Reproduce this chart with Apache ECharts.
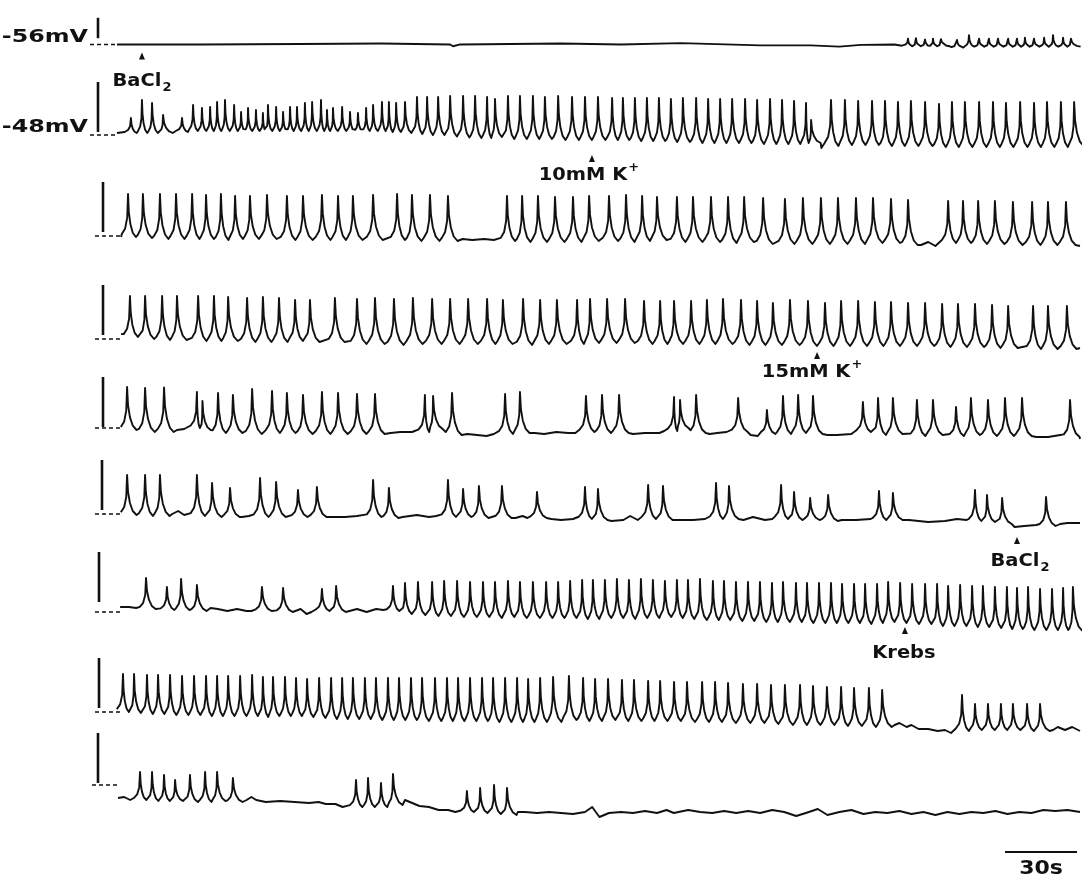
<!DOCTYPE html>
<html>
<head>
<meta charset="utf-8">
<script src="https://cdn.jsdelivr.net/npm/echarts@6/dist/echarts.min.js"></script>
<style>
  html, body { margin: 0; padding: 0; background: #ffffff; }
  #chart { width: 1082px; height: 880px; }
</style>
</head>
<body>
<div id="chart"></div>
<script>
// Nine consecutive sweeps of membrane potential. Time runs in seconds along
// each sweep; voltage is in mV relative to the dashed reference level.
// Spikes are [time s, peak mV, local baseline mV]; rest points are [time s, mV].

const sweepSeconds = 401.25;
const restingLabels = ['-56mV', '-48mV'];

const row1Spikes = [[329.6,1.3,-0.4],[332.9,1.4,-0.4],[336.7,1.1,-0.4],[340.0,1.3,-0.4],[343.3,1.2,-0.4],[350.0,1.0,-0.7],[355.0,2.1,-0.5],[359.2,1.3,-0.5],[363.3,1.3,-0.5],[367.1,1.3,-0.5],[371.3,1.3,-0.5],[375.0,1.3,-0.5],[378.3,1.5,-0.5],[382.1,1.3,-0.5],[386.3,1.5,-0.5],[390.0,2.1,-0.5],[394.2,1.5,-0.5],[397.5,1.3,-0.5]];
const row1Rest = [[0,0],[35,0.0],[76,0.1],[110,0.2],[138.8,0],[140,-0.4],[143,0],[185,0.2],[210,0.0],[235,0.3],[268,-0.2],[289,-0.2],[301,-0.5],[310,-0.1],[324,0],[346.5,-0.7],[401.25,-0.3]];

const row2Spikes = [[5.8,3.4,0.4],[10.4,7.0,0.4],[14.6,6.4,0.4],[19.2,4.0,0.4],
  [27.1,3.4,0.6],[31.7,6.0,0.8],[35.4,5.4,0.8],[38.8,5.6,0.8],[41.7,6.6,0.8],[45.0,7.0,0.8],[48.8,6.0,0.8],[51.7,4.6,0.8],[54.6,5.4,0.8],[57.9,5.0,0.8],[60.8,4.4,0.8],[62.9,6.0,0.8],[66.3,5.6,0.8],[69.2,4.6,0.8],[72.1,5.6,0.8],[75.0,5.6,0.8],[78.3,6.4,0.8],[81.3,6.6,0.8],[85.0,7.0,0.8],[87.5,5.0,0.8],[90.0,5.4,0.8],[93.8,5.6,0.8],[97.1,4.6,0.8],[100.4,4.4,0.8],[103.8,5.4,0.8],[106.7,6.0,0.8],[110.4,6.6,0.8],[113.3,6.6,0.6],[116.3,6.4,0.6],[120.0,6.6,0.4],[125.0,7.6,0.2],
  [129.2,7.6,0.0],[133.8,7.6,0.0],[138.8,7.8,-0.3],[144.2,7.8,-0.5],[149.2,7.8,-0.6],[154.2,7.6,-0.6],[157.5,7.2,-0.4],[162.9,7.8,-0.8],[167.9,7.8,-0.8],[173.3,7.8,-0.8],[178.3,7.6,-0.8],[183.8,7.8,-1.0],[189.6,7.6,-1.0],[195.0,7.6,-1.0],[200.4,7.6,-1.0],[206.3,7.4,-1.0],[210.8,7.4,-1.0],[215.8,7.4,-1.2],
  [220.8,7.4,-1.2],[225.8,7.4,-1.2],[230.8,7.2,-1.4],[235.8,7.4,-1.4],[241.3,7.4,-1.6],[246.3,7.2,-1.6],[251.3,7.2,-1.6],[256.3,7.2,-1.6],[261.7,7.2,-1.6],[266.7,7.0,-1.8],[272.1,7.2,-1.8],[277.1,7.0,-1.8],[282.1,6.8,-1.8],[287.1,6.4,-1.6],[289.2,3.0,-1.6],
  [297.5,7.0,-2.2],[303.3,7.0,-2.0],[308.8,6.8,-2.0],[314.6,6.8,-2.0],[320.0,6.8,-2.2],[325.4,6.6,-2.2],[330.8,6.8,-2.2],[336.7,6.6,-2.2],[342.5,6.2,-2.4],[347.9,6.6,-2.4],[353.3,6.6,-2.4],[359.2,6.6,-2.4],[365.0,6.6,-2.4],[370.4,6.4,-2.4],[376.3,6.6,-2.4],[382.1,6.4,-2.4],[387.5,6.6,-2.4],[393.3,6.6,-2.4],[398.8,6.6,-2.2]];
const row2Rest = [[0,0.4],[23.0,0.2],[293.5,-2.6],[401.25,-1.2]];

const row3Spikes = [[4.6,8.4,-0.2],[10.8,8.4,-0.4],[17.9,8.4,-0.6],[24.6,8.4,-0.6],[31.3,8.4,-0.6],[37.1,8.2,-0.6],[43.3,8.4,-0.8],[49.2,8.0,-0.6],[55.4,8.0,-0.6],[62.5,8.2,-0.6],[70.8,8.0,-0.8],[77.5,8.0,-0.8],[85.4,8.2,-0.8],[92.1,8.0,-0.8],[98.3,8.0,-0.8],[106.7,8.2,-0.8],[116.7,8.4,-0.8],[122.9,8.2,-1.0],[130.4,8.2,-1.0],[137.9,8.0,-1.0],
  [162.5,8.0,-1.0],[168.8,8.0,-1.2],[175.4,8.0,-1.2],[182.5,7.8,-1.2],[190.0,7.8,-1.2],[196.7,8.0,-1.0],[205.0,8.0,-1.0],[212.1,8.2,-1.2],[218.8,8.0,-1.0],[225.0,7.8,-0.8],[233.3,7.8,-1.2],[240.0,7.8,-1.2],[247.5,7.8,-1.2],[254.6,7.8,-1.4],[261.3,7.8,-1.2],[269.2,7.6,-1.6],[278.3,7.4,-1.6],[285.8,7.6,-1.6],[293.3,7.6,-1.6],[300.4,7.6,-1.6],[307.9,7.6,-1.6],[315.0,7.6,-1.4],[322.5,7.4,-1.4],[329.6,7.2,-1.8],
  [346.3,7.0,-1.4],[352.5,7.0,-1.4],[358.8,7.0,-1.6],[365.8,7.0,-1.6],[373.3,6.8,-1.8],[381.3,6.8,-1.8],[387.9,6.8,-1.8],[395.4,6.8,-1.8]];
const row3Rest = [[1.7,-0.2],[144,-0.6],[148,-0.8],[153,-0.6],[157,-0.8],[335,-1.8],[338,-1.2],[341,-2.0],[401.25,-2.0]];

const row4Spikes = [[5.4,8.6,0.4],[11.7,8.6,0.0],[18.8,8.6,-0.2],[25.0,8.6,-0.2],[33.8,8.6,-0.4],[40.4,8.6,-0.4],[46.3,8.4,-0.4],[54.2,8.2,-0.6],[60.8,8.4,-0.6],[67.5,8.2,-0.6],[74.2,7.8,-0.4],[80.4,7.8,-0.6],[90.8,8.2,-0.6],[100.0,8.0,-1.0],[107.5,8.2,-1.0],[115.4,8.0,-1.2],[123.3,8.2,-1.0],[131.3,8.0,-1.0],[138.8,8.0,-1.0],[146.3,8.0,-1.0],[154.2,8.0,-1.0],[160.8,7.8,-1.0],[169.2,8.0,-1.2],[176.3,7.8,-1.0],[183.3,7.8,-1.0],[191.7,7.8,-1.0],
  [197.1,8.0,-0.8],[204.2,8.0,-0.8],[211.7,8.0,-0.8],[219.6,7.6,-1.0],[226.3,7.6,-1.0],[232.1,7.6,-1.0],[239.2,7.6,-1.0],[245.8,7.8,-1.0],[252.5,8.0,-1.0],[260.0,7.8,-1.2],[266.7,7.6,-1.2],[273.3,7.2,-1.2],[280.4,7.8,-1.2],[287.9,7.6,-1.4],[295.0,7.2,-1.4],[301.7,7.6,-1.4],[308.8,7.6,-1.4],[315.8,7.4,-1.4],[322.5,7.4,-1.4],[329.6,7.2,-1.4],[336.7,7.2,-1.4],[343.8,7.0,-1.6],[350.4,7.0,-1.6],[357.5,7.0,-1.6],[364.6,6.8,-1.8],[371.3,6.6,-1.8],[381.7,6.6,-2.0],[387.9,6.6,-2.0],[395.8,6.6,-2.0]];
const row4Rest = [[1.7,1.0],[401.25,-1.8]];

const row5Spikes = [[4.2,8.2,-0.4],[11.7,8.0,-0.8],[19.6,8.1,-0.8],
  [33.3,7.2,0.0],[35.6,5.4,-0.4],[42.1,7.0,-1.0],[48.3,6.6,-1.0],[56.3,7.8,-1.2],[64.6,7.4,-1.0],[70.8,7.0,-1.0],[77.5,6.6,-1.2],[85.4,7.2,-1.2],[92.1,7.0,-1.2],[100.0,6.8,-1.2],[107.5,6.8,-1.2],
  [128.3,6.6,-0.8],[131.7,6.4,-0.2],[139.6,7.0,-1.4],
  [161.7,6.8,-1.2],[167.9,7.2,-1.0],
  [195.4,6.4,-0.8],[202.1,6.6,-1.0],[209.2,6.6,-1.0],
  [232.1,6.2,-0.6],[234.6,5.6,0.0],[241.3,6.6,-1.0],
  [258.8,6.0,-0.8],
  [270.8,3.6,-1.2],[277.5,6.4,-1.2],[283.8,6.6,-1.0],[290.0,6.4,-1.2],
  [310.8,5.2,-0.8],[317.1,6.0,-1.4],[323.3,6.0,-1.2],[333.3,5.6,-1.6],[340.0,5.6,-1.4],[349.6,4.2,-1.6],[355.8,6.0,-1.4],[362.9,5.6,-1.6],[370.0,6.0,-1.6],[377.1,6.0,-1.6],
  [397.1,5.6,-1.8]];
const row5Rest = [[1.7,-0.2],[25,-0.4],[28,-0.2],[114,-1.0],[118,-0.8],[123,-0.8],[146,-1.2],[150,-1.4],[154,-1.6],[157,-1.2],[174,-1.0],[178,-1.2],[183,-0.8],[188,-1.0],[191,-1.0],[215,-1.2],[220,-1.0],[226,-1.0],[228,-0.6],[247,-1.2],[250,-1.0],[254,-0.8],[264,-1.4],[267,-1.6],[296,-1.4],[300,-1.4],[306,-1.2],[383,-1.8],[388,-1.8],[393,-1.4],[401.25,-2.2]];

const row6Spikes = [[4.2,7.8,-0.2],[11.7,7.8,-0.4],[17.9,7.8,-0.4],
  [33.3,7.8,-0.4],[39.6,6.2,-0.6],[47.1,5.2,-0.6],
  [59.6,7.2,-0.6],[66.3,6.4,-0.6],[75.4,4.8,-0.6],[83.3,5.4,-0.6],
  [106.7,6.8,-0.6],[113.3,5.2,-0.8],
  [137.9,6.8,-0.6],[144.2,5.0,-0.6],[150.8,5.6,-0.8],[160.4,5.6,-0.8],
  [175.0,4.4,-0.8],
  [195.0,5.4,-1.0],[200.4,5.0,-1.2],
  [221.3,5.8,-1.0],[227.5,5.6,-1.2],
  [249.6,6.2,-1.0],[255.0,5.6,-1.0],
  [276.7,5.8,-1.0],[282.1,4.4,-1.2],[288.8,3.2,-1.2],[296.3,3.8,-1.4],
  [317.5,4.6,-1.2],[323.3,4.2,-1.2],
  [357.5,4.8,-1.4],[362.5,3.8,-1.6],[368.8,3.2,-2.0],
  [387.1,3.4,-2.4]];
const row6Rest = [[1.7,-0.2],[23,0.0],[25.5,0.6],[28,-0.2],[52,-0.6],[55,-0.4],[89,-0.6],[95,-0.6],[100,-0.4],[119,-0.6],[125,-0.2],[130,-0.6],[133,-0.4],[166,-0.8],[169,-0.4],[171,-0.8],[181,-1.0],[185,-1.2],[190,-1.0],[206,-1.4],[211,-1.2],[213.8,-0.4],[217,-1.2],[233,-1.2],[240,-1.2],[245,-1.0],[261,-1.2],[265,-0.6],[270,-1.2],[273,-1.0],[302,-1.2],[308,-1.2],[314,-1.0],[330,-1.2],[338,-1.6],[345,-1.4],[350,-1.0],[354,-1.2],[374,-2.6],[378,-2.4],[383,-2.2],[393,-2.0],[396,-1.8],[401.25,-1.8]];

const row7Spikes = [[12.1,6.8,0.6],[20.8,5.0,0.4],[26.7,6.6,0.4],[33.3,5.4,0.2],
  [60.4,5.0,0.2],[69.2,4.8,0.0],
  [85.4,4.6,0.2],[91.3,5.2,0.0],
  [115.0,5.2,0.2],[120.0,5.8,-0.4],[125.4,6.0,-0.6],[131.3,6.0,-0.8],[136.3,6.2,-0.8],[141.7,6.2,-1.0],[147.1,6.0,-1.0],[152.5,6.0,-1.0],[157.5,6.0,-1.2],[162.9,6.2,-1.0],[167.9,6.0,-1.2],[173.3,6.0,-1.2],[178.8,6.0,-1.2],[183.8,6.0,-1.2],[188.8,6.2,-1.2],[193.8,6.4,-1.4],
  [198.3,6.4,-1.4],[203.3,6.4,-1.2],[208.3,6.6,-1.2],[213.3,6.4,-1.4],[218.3,6.6,-1.2],[223.3,6.4,-1.2],[228.3,6.2,-1.0],[233.3,6.4,-1.2],[237.9,6.4,-1.4],[242.9,6.6,-1.6],[248.3,6.2,-1.6],[252.9,6.2,-1.6],[257.9,6.0,-1.8],[262.9,6.0,-1.8],[267.9,6.0,-2.0],[272.9,5.8,-2.0],[277.5,6.0,-2.0],[282.9,5.8,-2.0],[287.5,5.8,-2.2],[292.5,5.8,-2.2],[297.5,5.8,-2.2],[302.1,5.6,-2.2],[307.1,5.6,-2.2],[311.7,5.6,-2.4],[316.7,5.6,-2.2],[321.3,6.0,-2.0],[326.3,5.8,-2.2],[331.3,5.6,-2.4],[336.7,5.6,-2.4],[341.7,5.6,-2.8],[346.3,5.2,-2.8],[351.3,5.4,-2.8],[356.3,5.2,-3.0],[360.8,5.2,-3.0],[365.8,5.0,-3.2],[370.8,5.0,-3.4],[375.0,4.8,-3.4],[379.6,5.0,-3.6],[384.6,4.6,-3.6],[389.6,4.6,-3.6],[394.2,4.8,-3.6],[398.3,5.0,-3.8]];
const row7Rest = [[1.3,1.0],[5,1.0],[8,0.8],[39,0.8],[42,0.6],[46,0.2],[50,0.6],[54,0.2],[56,0.2],[74,0.0],[76.5,0.6],[79,-0.4],[81,0.0],[96,0.4],[100,0.6],[104,0.0],[108,0.6],[111,0.4],[401.25,-2.0]];

const row8Spikes = [[2.5,7.6,0.0],[7.1,7.6,-0.2],[12.5,7.4,-0.4],[17.1,7.4,-0.4],[22.1,7.4,-0.6],[27.1,7.2,-0.6],[32.1,7.2,-0.6],[37.1,7.2,-0.8],[41.7,7.2,-0.8],[46.3,7.2,-0.8],[51.3,7.2,-0.8],[56.3,7.4,-0.8],[60.8,7.0,-1.0],[65.0,7.0,-0.8],[70.0,7.0,-0.8],[74.6,6.8,-0.8],[79.2,6.6,-1.0],[84.2,6.8,-1.2],[89.2,6.8,-1.4],[93.8,6.8,-1.4],[98.3,6.8,-1.4],[103.3,6.8,-1.4],[107.9,6.8,-1.6],[112.9,6.8,-1.6],[117.5,6.8,-1.6],[122.5,6.8,-1.6],[127.1,6.8,-1.8],[132.5,6.8,-1.8],[137.5,6.8,-1.8],[142.1,6.8,-1.8],[147.1,6.8,-1.8],[152.1,6.8,-1.8],[156.7,6.8,-2.0],[161.7,6.8,-2.0],[166.7,6.8,-2.0],[171.3,6.6,-2.0],[176.3,6.8,-2.0],[181.7,7.0,-2.0],[188.3,7.2,-1.6],[194.2,6.8,-1.8],
  [199.2,6.6,-1.8],[204.6,6.6,-1.6],[210.4,6.4,-1.8],[215.4,6.4,-1.8],[221.3,6.2,-1.8],[226.3,6.2,-1.8],[232.1,6.0,-1.8],[237.5,6.0,-2.0],[243.8,6.0,-2.0],[249.2,6.0,-2.0],[254.6,5.8,-2.2],[260.8,5.6,-2.2],[266.7,5.6,-2.2],[272.5,5.4,-2.4],[278.3,5.4,-2.6],[284.6,5.4,-2.6],[290.0,5.2,-2.6],[295.8,5.0,-2.6],[301.7,5.0,-2.8],[307.1,4.8,-2.8],[313.3,4.8,-3.0],[318.8,4.4,-3.0],
  [352.1,3.4,-3.8],[357.5,1.6,-3.6],[362.9,1.6,-3.6],[368.3,1.6,-3.6],[373.3,1.6,-3.6],[379.2,1.6,-3.8],[384.6,1.6,-3.8]];
const row8Rest = [[0.4,0.6],[324,-2.6],[326,-2.2],[329,-3.0],[331,-2.6],[334,-3.4],[338,-3.4],[342,-3.8],[345,-3.6],[347.5,-4.2],[390,-3.6],[392,-3.0],[395,-3.6],[398,-3.0],[401.25,-3.8]];

const row9Spikes = [[9.6,2.6,-3.0],[14.6,2.6,-3.2],[19.6,2.0,-3.2],[24.2,1.0,-3.2],[30.4,2.0,-3.4],[36.7,2.6,-3.4],[41.7,2.6,-3.2],[48.3,1.4,-3.4],
  [99.6,1.0,-4.4],[104.6,1.4,-4.4],[110.0,0.4,-4.4],[115.0,2.2,-4.0],
  [145.8,-1.2,-5.4],[151.3,-0.6,-5.6],[157.1,0.0,-5.8],[162.5,-0.6,-6.0]];
const row9Rest = [[0.4,-2.6],[3,-2.4],[5.5,-3.0],[54,-3.0],[56,-2.4],[58,-3.0],[62,-3.4],[68,-3.2],[74,-3.4],[80,-3.6],[84,-3.4],[87,-3.8],[91,-3.8],[94,-4.4],
  [120,-3.0],[122,-3.4],[126,-4.2],[130,-4.4],[134,-5.0],[138,-5.0],[141,-5.4],
  [167,-5.4],[170,-5.4],[175,-5.6],[180,-5.4],[185,-5.6],[190,-5.8],[195,-5.4],[198,-4.4],[201,-6.4],[205,-5.6],[210,-5.4],[215,-5.6],[220,-5.2],[225,-5.6],[229,-5.0],[232,-5.6],[238,-5.0],[243,-5.4],[248,-5.6],[253,-5.2],[258,-5.6],[263,-5.2],[268,-5.6],[273,-5.0],[278,-5.4],[283,-6.2],[287,-5.6],[292,-4.8],[296,-6.0],[301,-5.4],[306,-5.0],[311,-5.8],[316,-5.4],[321,-5.6],[326,-5.2],[331,-5.8],[336,-5.4],[341,-6.0],[346,-5.4],[351,-5.8],[356,-5.4],[361,-5.6],[366,-5.2],[371,-5.8],[376,-5.4],[381,-5.6],[386,-5.0],[391,-5.2],[396,-5.0],[401.25,-5.4]];

// Drug application markers: sweep index, time (s), label and its sub/superscript.
const markerRows = [0, 1, 3, 5, 6];
const markerTimes = [10.4, 197.9, 291.7, 375.0, 328.3];
const markerNames = ['BaCl', '10mM K', '15mM K', 'BaCl', 'Krebs'];
const markerScripts = ['2', '+', '+', '2', ''];

// Calibration bars.
const timeBarSeconds = [370, 400];
const timeBarLabel = '30s';
const voltBarMv = [4.6, 10, 10, 10, 10, 10, 10, 10, 10];

// ---- layout ----
const MV_PX = 5;                 // 1 mV = 5 px
const Y_MIN = -8, Y_MAX = 10;
const rowZeroY = [40, 135, 236, 339, 428, 514, 612, 712, 785];
const barLowMv = [1.4, 0.6, 0.8, 0.8, 0.2, 0.8, 2.0, 0.8, 0.4];
const barX = [98, 98, 103, 103, 103, 102, 99, 99, 98];
const dashFromX = [90, 90, 95, 95, 95, 95, 95, 95, 92];
const markerTipMv = [-1.8, -4.0, -2.6, -4.6, -3.0];
const markerTextDy = [29, 20, 20, 24, 26];
const markerTextDx = [0, -3, -5, 3, -1];
const INK = '#111111';
const FONT_FAMILY = '"DejaVu Sans", "Liberation Sans", sans-serif';

// Spike waveform vertices (seconds from the peak, fraction of spike height):
// steep upstroke, fast then slowing repolarisation into a rounded trough,
// followed by a slow depolarising ramp into the next upstroke.
const FALL_T = [0.4, 1.2, 2.4, 4.0];
const FALL_F = [0.58, 0.3, 0.1, 0];
const RISE_T = [2.6, 1.2, 0.35];
const RISE_F = [0.07, 0.2, 0.45];
const SQUEEZE = 7.6;

function buildTrace(spikes, rest) {
  const pts = [];
  spikes.forEach(([t, peak, base], i) => {
    const prevT = i > 0 ? spikes[i - 1][0] : -Infinity;
    const nextT = i < spikes.length - 1 ? spikes[i + 1][0] : Infinity;
    const kIn = Math.min(1, (t - prevT) / SQUEEZE);
    const kOut = Math.min(1, (nextT - t) / SQUEEZE);
    const h = peak - base;
    RISE_T.forEach((dt, j) => pts.push([t - dt * kIn, base + RISE_F[j] * h]));
    pts.push([t, peak]);
    FALL_T.forEach((dt, j) => pts.push([t + dt * kOut, base + FALL_F[j] * h]));
  });
  rest.forEach(p => {
    const inside = spikes.some(s => p[0] > s[0] - RISE_T[0] - 0.1 && p[0] < s[0] + FALL_T[3] + 0.1);
    if (!inside) pts.push(p);
  });
  pts.sort((a, b) => a[0] - b[0]);
  return pts;
}

const rows = [
  { spikes: row1Spikes, rest: row1Rest },
  { spikes: row2Spikes, rest: row2Rest },
  { spikes: row3Spikes, rest: row3Rest },
  { spikes: row4Spikes, rest: row4Rest },
  { spikes: row5Spikes, rest: row5Rest },
  { spikes: row6Spikes, rest: row6Rest },
  { spikes: row7Spikes, rest: row7Rest },
  { spikes: row8Spikes, rest: row8Rest },
  { spikes: row9Spikes, rest: row9Rest }
];

const chart = echarts.init(document.getElementById('chart'), null, { renderer: 'canvas' });

const grids = rowZeroY.map(y0 => ({
  left: 117, width: 963, top: y0 - Y_MAX * MV_PX, height: (Y_MAX - Y_MIN) * MV_PX
}));
const xAxes = grids.map((g, i) => ({ gridIndex: i, type: 'value', min: 0, max: sweepSeconds, show: false }));
const yAxes = grids.map((g, i) => ({ gridIndex: i, type: 'value', min: Y_MIN, max: Y_MAX, show: false }));
const series = rows.map((r, i) => ({
  type: 'line',
  xAxisIndex: i,
  yAxisIndex: i,
  data: buildTrace(r.spikes, r.rest),
  symbol: 'none',
  showSymbol: false,
  clip: false,
  smooth: false,
  silent: true,
  lineStyle: { color: INK, width: 1.9, join: 'round' }
}));

chart.setOption({
  animation: false,
  backgroundColor: '#ffffff',
  grid: grids,
  xAxis: xAxes,
  yAxis: yAxes,
  series: series
});

// ---- annotations placed through the axes ----
const toPx = (row, t, v) => chart.convertToPixel({ gridIndex: row }, [t, v]);
const measureCtx = document.createElement('canvas').getContext('2d');
function textWidth(str, font) { measureCtx.font = font; return measureCtx.measureText(str).width; }

const elements = [];

function addLabel(cx, cy, main, script, size, scaleX, scriptKind) {
  const font = 'bold ' + size + 'px ' + FONT_FAMILY;
  const sSize = Math.round(size * 0.68);
  const sFont = 'bold ' + sSize + 'px ' + FONT_FAMILY;
  const w1 = textWidth(main, font);
  const w2 = script ? textWidth(script, sFont) + 1 : 0;
  const left = cx - (w1 + w2) * scaleX / 2;
  elements.push({
    type: 'text', x: left, y: cy, scaleX: scaleX, silent: true,
    style: { text: main, font: font, fill: INK, align: 'left', verticalAlign: 'middle' }
  });
  if (script) {
    const dy = scriptKind === 'sub' ? size * 0.36 : -size * 0.42;
    elements.push({
      type: 'text', x: left + (w1 + 1) * scaleX, y: cy + dy, scaleX: scaleX, silent: true,
      style: { text: script, font: sFont, fill: INK, align: 'left', verticalAlign: 'middle' }
    });
  }
}

rowZeroY.forEach((y0, i) => {
  const zero = toPx(i, 0, 0);
  // dashed reference level
  elements.push({
    type: 'line', silent: true,
    shape: { x1: dashFromX[i], y1: zero[1], x2: zero[0] + (i < 2 ? 0 : 3), y2: zero[1] },
    style: { stroke: INK, lineWidth: 1.6, lineDash: [4, 3] }
  });
  // vertical voltage calibration bar
  const lo = toPx(i, 0, barLowMv[i]);
  const hi = toPx(i, 0, barLowMv[i] + voltBarMv[i]);
  elements.push({
    type: 'line', silent: true,
    shape: { x1: barX[i], y1: lo[1], x2: barX[i], y2: hi[1] },
    style: { stroke: INK, lineWidth: 2.6 }
  });
});

// resting potential labels on the first two sweeps
restingLabels.forEach((txt, i) => {
  const zero = toPx(i, 0, 0);
  elements.push({
    type: 'text', x: 88, y: zero[1] - 7, scaleX: 1.4, silent: true,
    style: { text: txt, font: 'bold 17px ' + FONT_FAMILY, fill: INK, align: 'right', verticalAlign: 'middle' }
  });
});

// application arrows and labels
markerRows.forEach((row, k) => {
  const tip = toPx(row, markerTimes[k], markerTipMv[k]);
  elements.push({
    type: 'polygon', silent: true,
    shape: { points: [[tip[0] - 3, tip[1] + 7], [tip[0] + 3, tip[1] + 7], [tip[0], tip[1]]] },
    style: { fill: INK }
  });
  const kind = markerScripts[k] === '2' ? 'sub' : 'sup';
  addLabel(tip[0] + markerTextDx[k], tip[1] + markerTextDy[k], markerNames[k], markerScripts[k], 18, 1.08, kind);
});

// time calibration bar on the last sweep
const tb0 = toPx(8, timeBarSeconds[0], 0);
const tb1 = toPx(8, timeBarSeconds[1], 0);
const tbY = rowZeroY[8] + 67;
elements.push({
  type: 'line', silent: true,
  shape: { x1: tb0[0], y1: tbY, x2: tb1[0], y2: tbY },
  style: { stroke: INK, lineWidth: 2 }
});
addLabel((tb0[0] + tb1[0]) / 2, tbY + 17, timeBarLabel, '', 20, 1.1, 'sup');

chart.setOption({ graphic: { elements: elements } });
</script>
</body>
</html>
